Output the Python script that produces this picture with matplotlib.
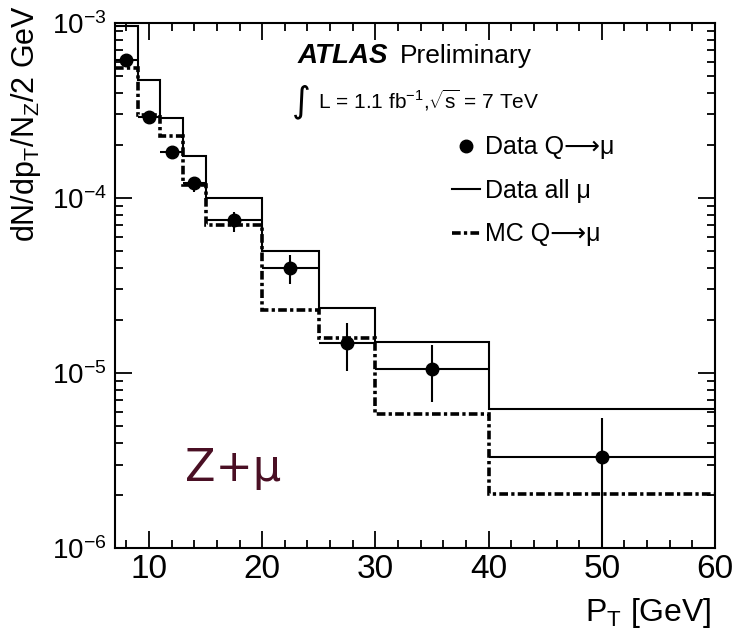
import numpy as np
import matplotlib
matplotlib.use('Agg')
import matplotlib.pyplot as plt
from matplotlib.ticker import MultipleLocator, LogLocator, NullFormatter
from matplotlib.lines import Line2D

# ---- data ----
bin_edges = [7, 9, 11, 13, 15, 20, 25, 30, 40, 60]
data_all_mu = [9.6e-4, 4.7e-4, 2.86e-4, 1.74e-4, 1.0e-4, 4.95e-5, 2.35e-5, 1.5e-5, 6.2e-6]
mc_q_mu = [5.5e-4, 2.98e-4, 2.26e-4, 1.19e-4, 7.0e-5, 2.29e-5, 1.58e-5, 5.8e-6, 2.04e-6]
data_q_mu = [6.15e-4, 2.9e-4, 1.83e-4, 1.22e-4, 7.5e-5, 3.98e-5, 1.48e-5, 1.05e-5, 3.3e-6]
data_q_mu_err_lo = [3e-5, 1.5e-5, 1.2e-5, 1.4e-5, 1.1e-5, 7.5e-6, 4.5e-6, 3.7e-6, 2.6e-6]
data_q_mu_err_hi = [3e-5, 1.5e-5, 1.2e-5, 1.0e-5, 8e-6, 7.5e-6, 4.5e-6, 3.9e-6, 2.2e-6]
legend_labels = ['Data Q\u27f6\u03bc', 'Data all \u03bc', 'MC Q\u27f6\u03bc']

plt.rcParams['font.family'] = ['Liberation Sans', 'DejaVu Sans']
plt.rcParams['mathtext.fontset'] = 'custom'
plt.rcParams['mathtext.rm'] = 'Liberation Sans'
plt.rcParams['mathtext.it'] = 'Liberation Sans:italic'
plt.rcParams['mathtext.bf'] = 'Liberation Sans:bold'

fig = plt.figure(figsize=(7.33, 6.35), dpi=100)
ax = fig.add_axes([0.1569, 0.137, 0.8186, 0.8268])

edges = np.array(bin_edges, dtype=float)
xc = 0.5 * (edges[:-1] + edges[1:])
xerr = 0.5 * (edges[1:] - edges[:-1])

mc_ls = (0, (2.4, 0.9, 0.9, 0.9))
ax.stairs(data_all_mu, edges, color='black', lw=1.5, baseline=None)
ax.stairs(mc_q_mu, edges, color='black', lw=2.6, linestyle=mc_ls, baseline=None)
ax.errorbar(xc, data_q_mu, xerr=xerr, yerr=[data_q_mu_err_lo, data_q_mu_err_hi],
            fmt='o', color='black', ms=9, elinewidth=1.5, capsize=0)

ax.set_yscale('log')
ax.set_xlim(7, 60)
ax.set_ylim(1e-6, 1e-3)
ax.xaxis.set_major_locator(MultipleLocator(10))
ax.xaxis.set_minor_locator(MultipleLocator(2))
ax.yaxis.set_major_locator(LogLocator(base=10, numticks=20))
ax.yaxis.set_minor_locator(LogLocator(base=10, subs=np.arange(2, 10), numticks=100))
ax.yaxis.set_minor_formatter(NullFormatter())

ax.tick_params(which='both', direction='in', top=True, right=True, width=1.3, colors='black')
ax.tick_params(which='major', length=12)
ax.tick_params(which='minor', length=6)
ax.tick_params(axis='x', labelsize=24, pad=4)
ax.tick_params(axis='y', labelsize=20, pad=6)
for s in ax.spines.values():
    s.set_linewidth(1.5)

ax.set_ylabel(r'dN/dp$_{\mathrm{T}}$/N$_{\mathrm{Z}}$/2 GeV', fontsize=22, loc='top')
ax.yaxis.set_label_coords(-0.12, 1.034)
ax.set_xlabel(r'P$_{\mathrm{T}}$ [GeV]', fontsize=23, loc='right')
ax.xaxis.set_label_coords(0.995, -0.092)

ax.text(0.305, 0.924, 'ATLAS', fontsize=20, fontweight='bold', style='italic',
        va='baseline', transform=ax.transAxes)
ax.text(0.474, 0.924, 'Preliminary', fontsize=19, va='baseline', transform=ax.transAxes)
ax.text(0.295, 0.832, '\u222b', fontsize=26, family='DejaVu Sans', va='baseline',
        transform=ax.transAxes)
ax.text(0.338, 0.838, r'L = 1.1 fb$^{\mathrm{-1}}$,$\sqrt{\mathrm{s}}$ = 7 TeV', fontsize=15,
        va='baseline', transform=ax.transAxes)

ax.text(0.117, 0.152, 'Z+\u03bc', fontsize=32, color='#4a0f24',
        family='DejaVu Sans', va='center', transform=ax.transAxes)

h1 = Line2D([], [], marker='o', ls='none', color='black', ms=9)
h2 = Line2D([], [], color='black', lw=1.5)
h3 = Line2D([], [], color='black', lw=2.6, ls=mc_ls)
ax.legend([h1, h2, h3], legend_labels, loc='upper left', bbox_to_anchor=(0.562, 0.786),
          frameon=False, fontsize=18, handlelength=1.1, handletextpad=0.2,
          labelspacing=0.78, borderpad=0, borderaxespad=0)

fig.savefig('out.png', dpi=100)
